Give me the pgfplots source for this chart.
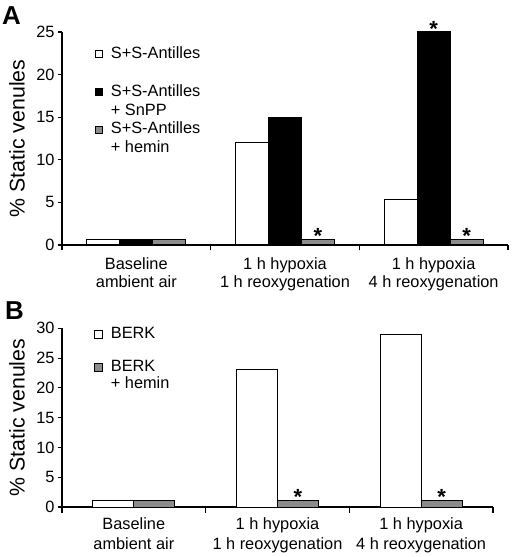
\documentclass[border=0pt]{standalone}
\usepackage{pgfplots}
\pgfplotsset{compat=1.18}
\usepackage{fontspec}
\setmainfont{Liberation Sans}
\definecolor{bargray}{RGB}{140,140,140}
\newcommand{\lbl}{\fontsize{16.4}{18}\selectfont}
\pgfplotsset{
  legsq/.style={legend image code/.code={\draw[##1, line width=0.9bp] (0bp,-3.5bp) rectangle (7bp,3.5bp);}},
  legsqb/.style={legend image code/.code={\draw[##1, line width=0.9bp] (0bp,-4bp) rectangle (8bp,4bp);}},
  myaxis/.style={
    scale only axis,
    axis x line*=bottom, axis y line*=left,
    x axis line style={-}, y axis line style={-},
    axis line style={line width=1.1bp},
    every tick/.style={line width=1.1bp, black},
    tick align=outside,
    major tick length=4bp,
    minor tick length=5.5bp,
    xmin=-0.5, xmax=2.5, ymin=0,
    xtick={0,1,2},
    major x tick style={draw=none},
    minor xtick={-0.5,0.5,1.5,2.5},
    xticklabels={{Baseline\\ambient air},{1 h hypoxia\\1 h reoxygenation},{1 h hypoxia\\4 h reoxygenation}},
    ticklabel style={font=\lbl},
    /pgf/number format/assume math mode=true,
    ylabel={\% Static venules},
    ybar,
    legend cell align=left,
    clip=false,
  },
  star/.style={nodes near coords, point meta=explicit symbolic,
    every node near coord/.append style={font=\fontsize{22}{22}\selectfont\bfseries, anchor=south, inner sep=0pt, yshift=-4.6bp}},
}
\begin{document}
\begin{tikzpicture}
\useasboundingbox (0,0) rectangle (516bp,557bp);
% Panel A
\begin{axis}[myaxis,
  at={(62bp,312bp)}, anchor=south west,
  width=446bp, height=213bp,
  ymax=25, ytick={0,5,10,15,20,25},
  bar width=33bp,
  xticklabel style={align=center, inner sep=0pt, yshift=-8.7bp},
  ylabel style={font=\fontsize{21.4}{24}\selectfont, at={(axis description cs:-0.1009,0.5)}, anchor=center},
  legend style={draw=none, fill=none, inner sep=0pt, outer sep=0pt, row sep=2.9bp, column sep=0pt,
    nodes={inner sep=0pt, text height=12bp, text depth=4bp, font=\lbl},
    /tikz/every odd column/.append style={column sep=8bp},
    at={(axis description cs:0.074,0.9324)}, anchor=north west},
]
\addplot[forget plot, fill=white, draw=black, line width=1bp, bar shift=-33bp] coordinates {(0,0.7) (1,12) (2,5.3)};
\addplot[forget plot, fill=black, draw=black, line width=1bp, bar shift=0bp, star] coordinates {(0,0.7) [{}] (1,15) [{}] (2,25) [*]};
\addplot[forget plot, fill=bargray, draw=black, line width=1bp, bar shift=33bp, star] coordinates {(0,0.7) [{}] (1,0.7) [*] (2,0.7) [*]};
\addlegendimage{legsq, fill=white, draw=black}
\addlegendentry{S+S-Antilles}
\addlegendimage{empty legend}
\addlegendentry{}
\addlegendimage{legsq, fill=black, draw=black}
\addlegendentry{S+S-Antilles}
\addlegendimage{empty legend}
\addlegendentry{+ SnPP}
\addlegendimage{legsq, fill=bargray, draw=black}
\addlegendentry{S+S-Antilles}
\addlegendimage{empty legend}
\addlegendentry{+ hemin}
\end{axis}
% Panel B
\begin{axis}[myaxis,
  at={(62bp,50bp)}, anchor=south west,
  width=431bp, height=178.7bp,
  ymax=30, ytick={0,5,10,15,20,25,30},
  bar width=41bp,
  xticklabel style={align=center, inner sep=0pt, yshift=-6.7bp, font=\fontsize{16.4}{19.5}\selectfont},
  ylabel style={font=\fontsize{21.4}{24}\selectfont, at={(axis description cs:-0.1044,0.5)}, anchor=center},
  legend style={draw=none, fill=none, inner sep=0pt, outer sep=0pt, row sep=0.7bp, column sep=0pt,
    nodes={inner sep=0pt, text height=12bp, text depth=4bp, font=\lbl},
    /tikz/every odd column/.append style={column sep=8bp},
    at={(axis description cs:0.0742,1.0106)}, anchor=north west},
]
\addplot[forget plot, fill=white, draw=black, line width=1bp, bar shift=-20.5bp] coordinates {(0,1.1) (1,23) (2,29)};
\addplot[forget plot, fill=bargray, draw=black, line width=1bp, bar shift=20.5bp, star] coordinates {(0,1.1) [{}] (1,1.1) [*] (2,1.1) [*]};
\addlegendimage{legsqb, fill=white, draw=black}
\addlegendentry{BERK}
\addlegendimage{empty legend}
\addlegendentry{}
\addlegendimage{legsqb, fill=bargray, draw=black}
\addlegendentry{BERK}
\addlegendimage{empty legend}
\addlegendentry{+ hemin}
\end{axis}
\node[anchor=base west, inner sep=0pt, font=\fontsize{26}{26}\selectfont\bfseries] at (2bp,532bp) {A};
\node[anchor=base west, inner sep=0pt, font=\fontsize{26}{26}\selectfont\bfseries] at (5bp,237bp) {B};
\end{tikzpicture}
\end{document}
